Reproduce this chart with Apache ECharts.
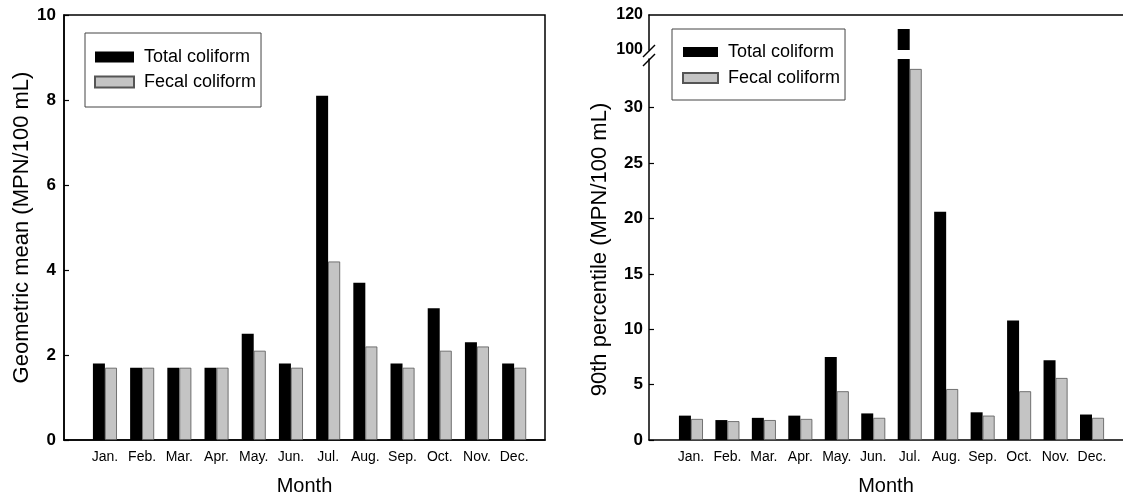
<!DOCTYPE html>
<html>
<head>
<meta charset="utf-8">
<script src="https://cdn.jsdelivr.net/npm/echarts@6.0.0/dist/echarts.min.js"></script>
<style>
html,body{margin:0;padding:0;background:#fff;}
#c{width:1123px;height:501px;}
</style>
</head>
<body>
<div id="c"></div>
<script>
// ---- data ----
const months = ['Jan.','Feb.','Mar.','Apr.','May.','Jun.','Jul.','Aug.','Sep.','Oct.','Nov.','Dec.'];
const seriesNames = ['Total coliform','Fecal coliform'];
const geoTotal = [1.8,1.7,1.7,1.7,2.5,1.8,8.1,3.7,1.8,3.1,2.3,1.8];
const geoFecal = [1.7,1.7,1.7,1.7,2.1,1.7,4.2,2.2,1.7,2.1,2.2,1.7];
const p90Total = [2.2,1.8,2.0,2.2,7.5,2.4,112,20.6,2.5,10.8,7.2,2.3];
const p90Fecal = [1.9,1.7,1.8,1.9,4.4,2.0,33.5,4.6,2.2,4.4,5.6,2.0];
const leftTicks = [0,2,4,6,8,10];
const rightLowTicks = [0,5,10,15,20,25,30];
const rightHighTicks = [100,120];
const breakLow = 34.4;   // top of lower segment of the broken axis
const breakHigh = 100;   // bottom of upper segment

// ---- styles ----
const tickFont = {fontFamily:'"Liberation Sans Narrow","Liberation Sans",Arial,sans-serif',fontWeight:'bold',fontSize:17,color:'#000'};
const monthFont = {fontFamily:'"Liberation Sans",Arial,sans-serif',fontSize:14,color:'#000'};
const nameFont = {fontFamily:'"Liberation Sans",Arial,sans-serif',fontSize:20,color:'#000'};
const yNameFont = {fontFamily:'"Liberation Sans",Arial,sans-serif',fontSize:22,color:'#000'};
const lineStyle = {color:'#000',width:1.5};
const blackStyle = {color:'#000'};
const grayStyle = {color:'#c4c4c4',borderColor:'#555',borderWidth:0.8};
const monthIdx = months.map((m,i)=>i);

const chart = echarts.init(document.getElementById('c'));

function xAxisCfg(grid, min, max, showLabels, pos){
  return {
    type:'value', gridIndex:grid, min:min, max:max, position:pos||'bottom',
    axisLine:{show:true,onZero:false,lineStyle:lineStyle},
    axisTick:{show:false}, splitLine:{show:false},
    axisLabel: showLabels ? {customValues:monthIdx, formatter:v=>months[v], margin:10, ...monthFont} : {show:false},
    name: showLabels ? 'Month' : '', nameLocation:'middle', nameGap:36, nameTextStyle:nameFont
  };
}
function pairs(arr, f){ return arr.map((v,i)=>[i, f? f(v):v]); }

function legendCfg(left, top, pad, gap, iw, ih){
  return {
    data:seriesNames, orient:'vertical', left:left, top:top,
    padding:pad, itemGap:gap, itemWidth:iw, itemHeight:ih,
    borderColor:'#444', borderWidth:1, selectedMode:false,
    icon:'rect',
    textStyle:{fontFamily:'"Liberation Sans",Arial,sans-serif',fontSize:18,color:'#000',lineHeight:20,padding:[0,0,0,5]}
  };
}

const option = {
  animation:false,
  backgroundColor:'#fff',
  legend:[
    legendCfg(85,33,[14,5,15,9],5,39,11),
    legendCfg(672,29,[13,5,12,10],6,35,10)
  ],
  grid:[
    {left:64, top:15, width:481, height:429, show:true, borderColor:'#000', borderWidth:1.5, backgroundColor:'transparent'},
    {left:649, top:59, width:475, height:383},
    {left:649, top:15, width:475, height:35}
  ],
  xAxis:[
    xAxisCfg(0,-1.10,11.83,true),
    xAxisCfg(1,-1.15,11.85,true),
    xAxisCfg(2,-1.15,11.85,false,'top')
  ],
  yAxis:[
    {type:'value', gridIndex:0, min:0, max:10, interval:2,
     axisLine:{show:true,onZero:false,lineStyle:lineStyle},
     axisTick:{show:true,inside:true,length:5,customValues:leftTicks,lineStyle:{color:'#000',width:1.2}},
     axisLabel:{customValues:leftTicks, margin:8, ...tickFont},
     splitLine:{show:false},
     name:'Geometric mean (MPN/100 mL)', nameLocation:'middle', nameGap:31, nameTextStyle:yNameFont},
    {type:'value', gridIndex:1, min:0, max:breakLow,
     axisLine:{show:true,onZero:false,lineStyle:lineStyle},
     axisTick:{show:true,inside:true,length:5,customValues:rightLowTicks,lineStyle:{color:'#000',width:1.2}},
     axisLabel:{customValues:rightLowTicks, margin:6, ...tickFont},
     splitLine:{show:false},
     name:'90th percentile (MPN/100 mL)', nameLocation:'middle', nameGap:38, nameTextStyle:yNameFont},
    {type:'value', gridIndex:2, min:breakHigh, max:120,
     axisLine:{show:true,onZero:false,lineStyle:lineStyle},
     axisTick:{show:false},
     axisLabel:{customValues:rightHighTicks, margin:6, ...tickFont, fontSize:16, letterSpacing:-1},
     splitLine:{show:false}}
  ],
  series:[
    {name:seriesNames[0], type:'bar', xAxisIndex:0, yAxisIndex:0, barWidth:12, barGap:'0%', itemStyle:blackStyle, data:pairs(geoTotal)},
    {name:seriesNames[1], type:'bar', xAxisIndex:0, yAxisIndex:0, barWidth:12, barGap:'0%', itemStyle:grayStyle, data:pairs(geoFecal)},
    {name:seriesNames[0], type:'bar', xAxisIndex:1, yAxisIndex:1, barWidth:12, barGap:'0%', clip:true, itemStyle:blackStyle, data:pairs(p90Total)},
    {name:seriesNames[1], type:'bar', xAxisIndex:1, yAxisIndex:1, barWidth:12, barGap:'0%', clip:true, itemStyle:grayStyle, data:pairs(p90Fecal)},
    {name:seriesNames[0], type:'bar', xAxisIndex:2, yAxisIndex:2, barWidth:12, barGap:'0%', clip:true, itemStyle:blackStyle, data:pairs(p90Total, v=> v>=breakHigh ? v : '-')},
    {name:seriesNames[1], type:'bar', xAxisIndex:2, yAxisIndex:2, barWidth:12, barGap:'0%', clip:true, itemStyle:grayStyle, data:pairs(p90Fecal, v=> v>=breakHigh ? v : '-')}
  ]
};
chart.setOption(option);

// break marks on the right y axis
const ax = chart.convertToPixel({xAxisIndex:1}, -1.15);
const yTop = chart.convertToPixel({yAxisIndex:2}, breakHigh);
const yBot = chart.convertToPixel({yAxisIndex:1}, breakLow);
chart.setOption({
  graphic:[
    {type:'line', shape:{x1:ax-6, y1:yTop+7, x2:ax+6, y2:yTop-5}, style:{stroke:'#000', lineWidth:1.5}},
    {type:'line', shape:{x1:ax-6, y1:yBot+7, x2:ax+6, y2:yBot-5}, style:{stroke:'#000', lineWidth:1.5}}
  ]
});
</script>
</body>
</html>
